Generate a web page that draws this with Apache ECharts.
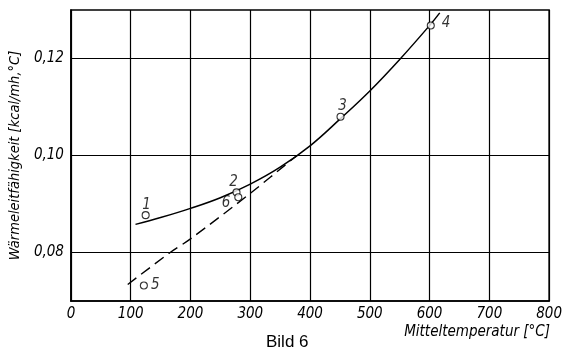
<!DOCTYPE html>
<html>
<head>
<meta charset="utf-8">
<script src="https://cdn.jsdelivr.net/npm/echarts@6/dist/echarts.min.js"></script>
<style>html,body{margin:0;padding:0;background:#fff;}#c{width:565px;height:356px;}</style>
</head>
<body>
<div id="c"></div>
<script>
// ---- data ----
var solidT = [108, 150, 200, 250, 300, 350, 400, 450, 500, 550, 600, 617];
var solidK = [0.0858, 0.0872, 0.0891, 0.0913, 0.0941, 0.0976, 0.1020, 0.1075, 0.1133, 0.1198, 0.1268, 0.1294];
var dashedT = [95, 166, 200, 300, 378];
var dashedK = [0.0734, 0.0800, 0.0828, 0.0922, 0.1000];
var pointNames = ['1', '2', '3', '4', '5', '6'];
var pointT = [125, 277, 451, 602, 122, 280];
var pointK = [0.0877, 0.0924, 0.1080, 0.1268, 0.0732, 0.0914];
var xTicks = [0, 100, 200, 300, 400, 500, 600, 700, 800];
var yTickLabels = ['0,08', '0,10', '0,12'];
var yTitle = 'Wärmeleitfähigkeit [kcal/mh,°C]';
var xTitle = 'Mitteltemperatur [°C]';
var caption = 'Bild 6';

// ---- label placement (style only) ----
var labelPos = ['top', 'top', 'top', 'right', 'right', 'left'];
var labelOff = [[1, 5], [-3, 4], [2, 4], [4, -2], [0, 0], [-1, 6]];

var FONT = '"Liberation Sans Narrow", "DejaVu Sans Condensed", sans-serif';

function pairs(a, b) { return a.map(function (v, i) { return [v, b[i]]; }); }

var pts = pointT.map(function (t, i) {
  return {
    value: [t, pointK[i]],
    label: { show: true, formatter: pointNames[i], position: labelPos[i], offset: labelOff[i], distance: 3 }
  };
});

var chart = echarts.init(document.getElementById('c'), null, { renderer: 'canvas' });
chart.setOption({
  animation: false,
  backgroundColor: '#fff',
  grid: { left: 69, right: 10, top: 10, bottom: 55, show: true, borderColor: '#000', borderWidth: 1.5, backgroundColor: 'transparent' },
  xAxis: {
    type: 'value', min: xTicks[0], max: xTicks[xTicks.length - 1], interval: 100,
    axisLine: { show: true, lineStyle: { color: '#000', width: 1.5 } },
    axisTick: { show: false },
    axisLabel: { color: '#000', fontFamily: FONT, fontStyle: 'italic', fontSize: 15, margin: 6 },
    splitLine: { show: true, lineStyle: { color: '#000', width: 1.2 } }
  },
  yAxis: {
    type: 'value', min: 0.07, max: 0.13, interval: 0.01,
    axisLine: { show: true, lineStyle: { color: '#000', width: 1.5 } },
    axisTick: { show: false },
    axisLabel: {
      color: '#000', fontFamily: FONT, fontStyle: 'italic', fontSize: 15, margin: 7,
      formatter: function (v) {
        var n = Math.round(v * 100);
        var idx = [8, 10, 12].indexOf(n);
        return idx >= 0 ? yTickLabels[idx] : '';
      }
    },
    splitLine: { show: true, lineStyle: { color: ['rgba(0,0,0,0)', '#000'], width: 1.2 } },
    name: yTitle, nameLocation: 'middle', nameGap: 36, nameRotate: 90,
    nameTextStyle: { color: '#000', fontFamily: FONT, fontStyle: 'italic', fontSize: 14.5 }
  },
  graphic: [
    { type: 'text', right: 15, top: 325, style: { text: xTitle, fill: '#000', font: 'italic 15px ' + FONT } },
    { type: 'text', left: 266, top: 334, style: { text: caption, fill: '#000', font: '17px "Liberation Sans", Arial, sans-serif' } }
  ],
  series: [
    { type: 'line', data: pairs(solidT, solidK), smooth: 0.4, symbol: 'none', lineStyle: { color: '#000', width: 1.5 }, z: 3 },
    { type: 'line', data: pairs(dashedT, dashedK), smooth: 0.3, symbol: 'none', lineStyle: { color: '#000', width: 1.4, type: [11, 6] }, z: 3 },
    {
      type: 'scatter', data: pts, symbol: 'circle', symbolSize: 7, z: 5,
      itemStyle: { color: '#fff', borderColor: '#000', borderWidth: 1.1 },
      label: { color: '#000', fontFamily: FONT, fontStyle: 'italic', fontSize: 15 }
    }
  ]
});
</script>
</body>
</html>
